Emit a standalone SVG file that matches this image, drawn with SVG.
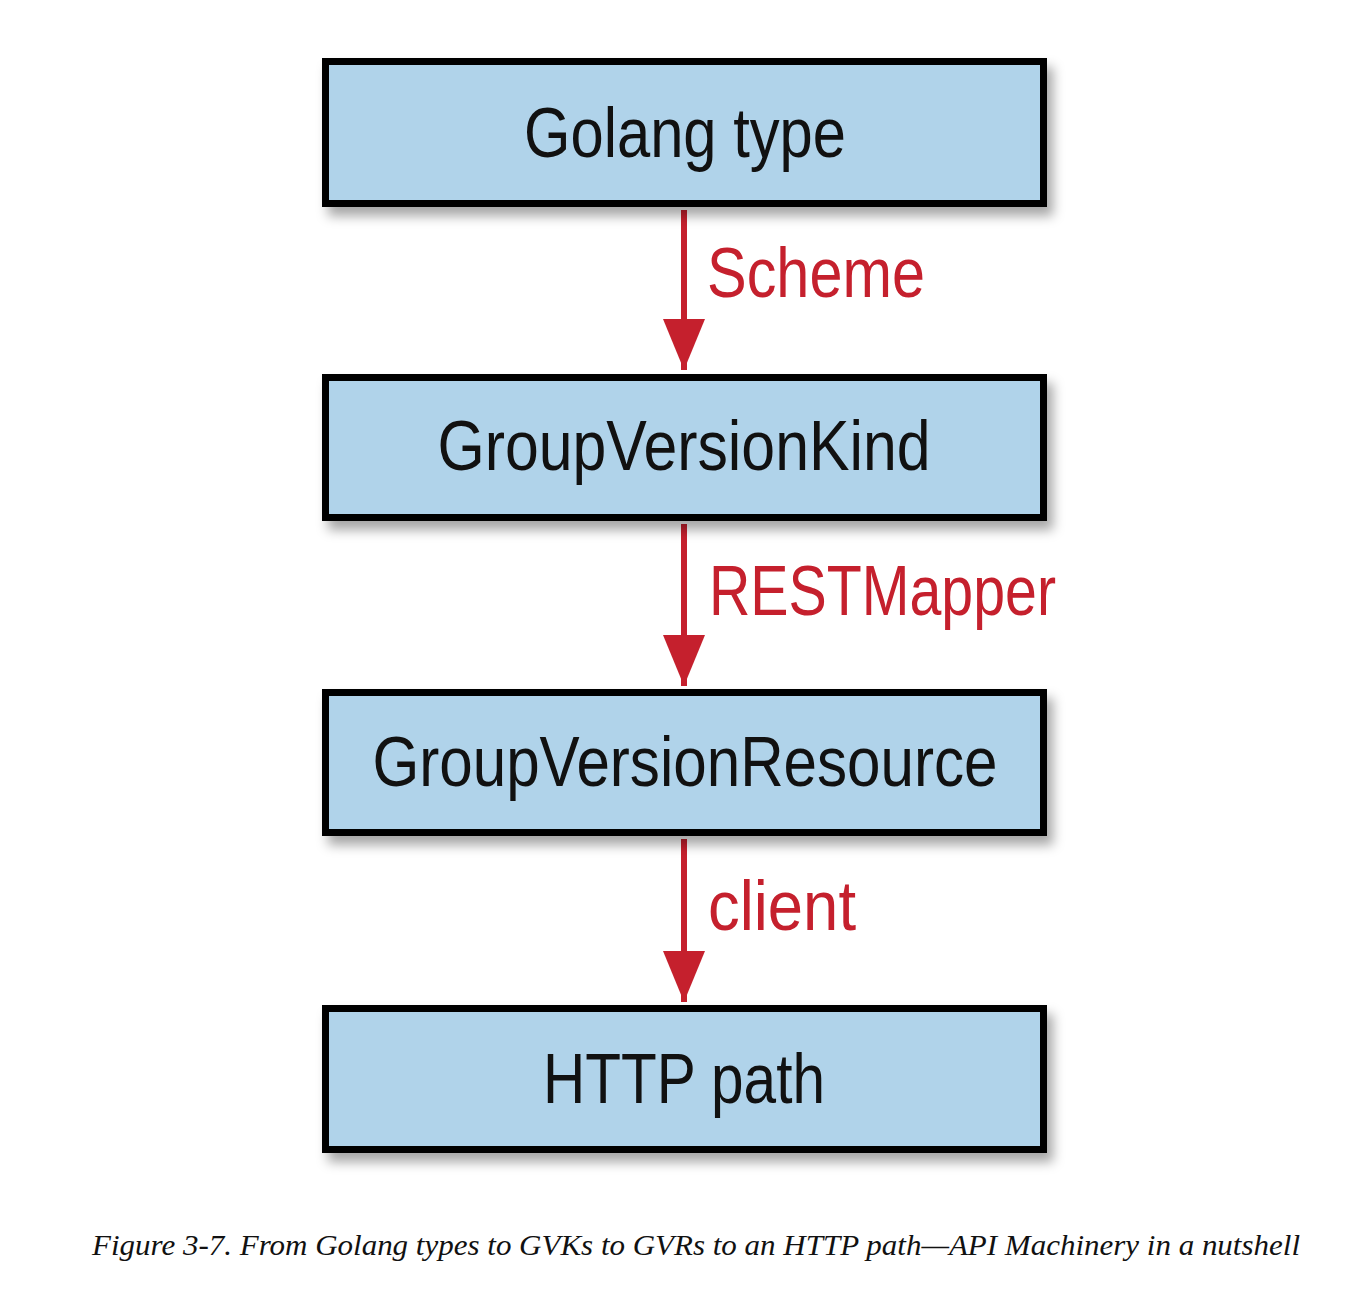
<svg xmlns="http://www.w3.org/2000/svg" width="1354" height="1300" viewBox="0 0 1354 1300">
  <style>
    .box { fill: #b0d3ea; stroke: #000; stroke-width: 7; }
    .lbl { font-family: "Liberation Sans Narrow", "Liberation Sans", "DejaVu Sans Condensed", sans-serif; font-size: 70px; fill: #111; text-anchor: middle; }
    .edge { font-family: "Liberation Sans Narrow", "Liberation Sans", "DejaVu Sans Condensed", sans-serif; font-size: 70px; fill: #c5202d; }
    .line { stroke: #c5202d; stroke-width: 6; fill: none; }
    .cap { font-family: "Liberation Serif", serif; font-style: italic; font-size: 29px; fill: #111; }
  </style>
  <defs>
    <filter id="sh" x="-10%" y="-20%" width="125%" height="150%">
      <feDropShadow dx="6" dy="9" stdDeviation="6" flood-color="#000" flood-opacity="0.35"/>
    </filter>
    <marker id="ah" markerUnits="userSpaceOnUse" markerWidth="52" markerHeight="42" refX="51" refY="21" orient="auto">
      <path d="M0,0 L51,21 L0,42 Z" fill="#c5202d"/>
    </marker>
  </defs>
  <rect width="1354" height="1300" fill="#fff"/>
  <g id="connectors">
    <g id="e1"><line class="line" x1="684" y1="210" x2="684" y2="370" marker-end="url(#ah)"/><text class="edge" x="707" y="297" textLength="218" lengthAdjust="spacingAndGlyphs">Scheme</text></g>
    <g id="e2"><line class="line" x1="684" y1="524" x2="684" y2="686" marker-end="url(#ah)"/><text class="edge" x="709" y="615" textLength="347" lengthAdjust="spacingAndGlyphs">RESTMapper</text></g>
    <g id="e3"><line class="line" x1="684" y1="839" x2="684" y2="1002" marker-end="url(#ah)"/><text class="edge" x="708" y="930" textLength="148" lengthAdjust="spacingAndGlyphs">client</text></g>
  </g>
  <g id="n1"><rect class="box" x="325.5" y="61.5" width="718" height="142" filter="url(#sh)"/><text class="lbl" x="685" y="157" textLength="322" lengthAdjust="spacingAndGlyphs">Golang type</text></g>
  <g id="n2"><rect class="box" x="325.5" y="377.5" width="718" height="140" filter="url(#sh)"/><text class="lbl" x="684" y="470" textLength="493" lengthAdjust="spacingAndGlyphs">GroupVersionKind</text></g>
  <g id="n3"><rect class="box" x="325.5" y="692.5" width="718" height="140" filter="url(#sh)"/><text class="lbl" x="685" y="786" textLength="625" lengthAdjust="spacingAndGlyphs">GroupVersionResource</text></g>
  <g id="n4"><rect class="box" x="325.5" y="1008.5" width="718" height="141" filter="url(#sh)"/><text class="lbl" x="684" y="1103" textLength="282" lengthAdjust="spacingAndGlyphs">HTTP path</text></g>
  <text class="cap" x="92" y="1255" textLength="1208" lengthAdjust="spacingAndGlyphs">Figure 3-7. From Golang types to GVKs to GVRs to an HTTP path—API Machinery in a nutshell</text>
</svg>
